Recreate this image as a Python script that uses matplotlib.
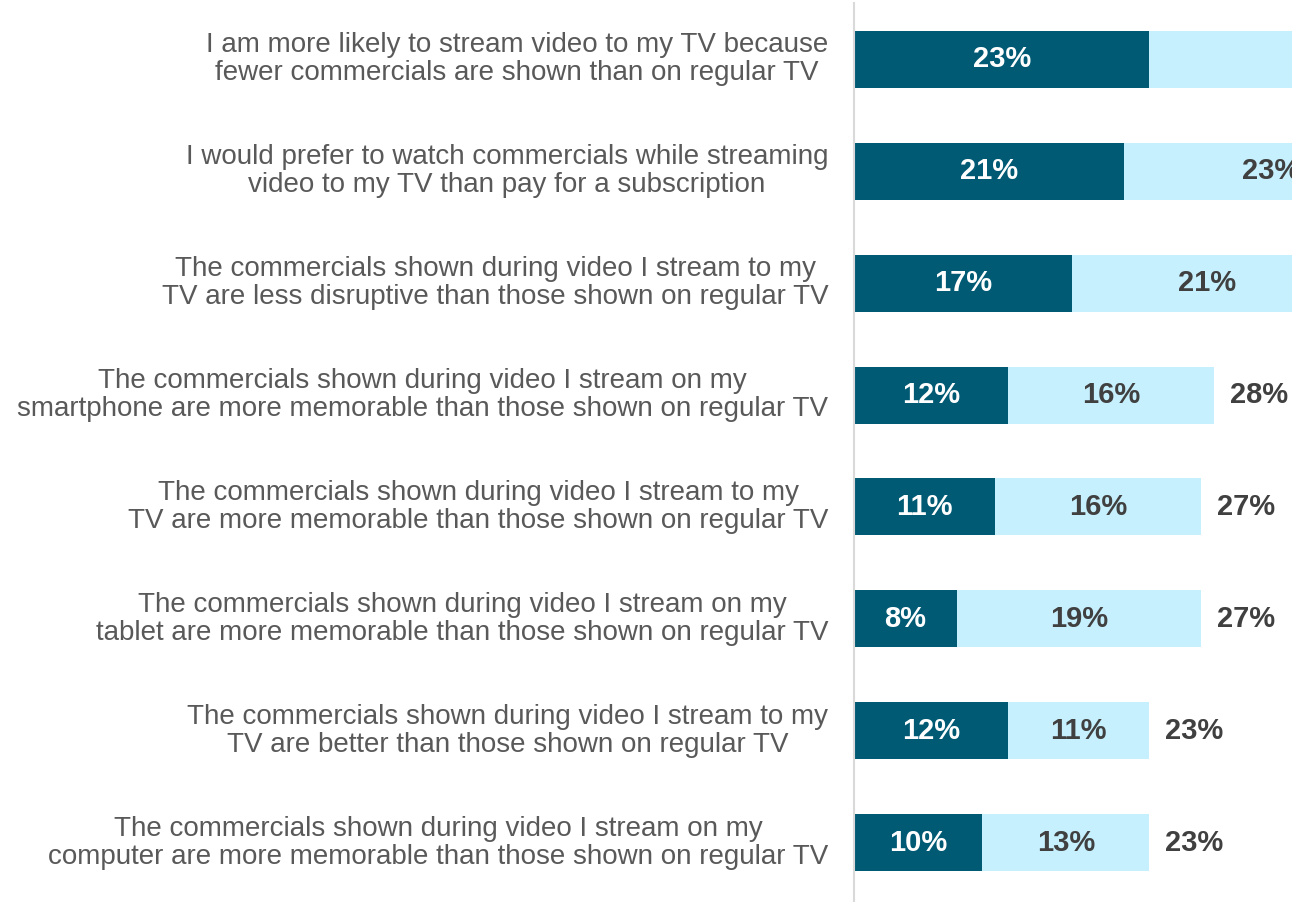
import matplotlib.pyplot as plt

plt.rcParams['font.family'] = ['Liberation Sans', 'DejaVu Sans']

statements = [
    "I am more likely to stream video to my TV because\nfewer commercials are shown than on regular TV",
    "I would prefer to watch commercials while streaming\nvideo to my TV than pay for a subscription",
    "The commercials shown during video I stream to my\nTV are less disruptive than those shown on regular TV",
    "The commercials shown during video I stream on my\nsmartphone are more memorable than those shown on regular TV",
    "The commercials shown during video I stream to my\nTV are more memorable than those shown on regular TV",
    "The commercials shown during video I stream on my\ntablet are more memorable than those shown on regular TV",
    "The commercials shown during video I stream to my\nTV are better than those shown on regular TV",
    "The commercials shown during video I stream on my\ncomputer are more memorable than those shown on regular TV",
]
strongly_agree = [23, 21, 17, 12, 11, 8, 12, 10]
somewhat_agree = [30, 23, 21, 16, 16, 19, 11, 13]

dark = '#005A73'
light = '#C6F0FD'
label_gray = '#595959'
value_gray = '#404040'

fig = plt.figure(figsize=(12.92, 9.02), dpi=100)
ax = fig.add_axes([0.661, 0.0, 0.339, 1.0])

x_max = 34.1
y = list(range(len(statements)))
totals = [a + b for a, b in zip(strongly_agree, somewhat_agree)]

ax.barh(y, strongly_agree, height=0.51, color=dark)
ax.barh(y, somewhat_agree, left=strongly_agree, height=0.51, color=light)

for i in y:
    a, b = strongly_agree[i], somewhat_agree[i]
    ax.text(a / 2, i, f"{a}%", ha='center', va='center', color='white',
            fontsize=21, fontweight='bold')
    # labels past the right edge are off the picture in the original
    if a + b / 2 < x_max:
        ax.text(a + b / 2, i, f"{b}%", ha='center', va='center', color=value_gray,
                fontsize=21, fontweight='bold')
    if totals[i] + 1.25 < x_max:
        ax.text(totals[i] + 1.25, i, f"{totals[i]}%", ha='left', va='center',
                color=value_gray, fontsize=21, fontweight='bold')
    ax.text(-2.0, i, statements[i], ha='right', va='center', multialignment='center',
            color=label_gray, fontsize=20, linespacing=1.1)

ax.set_xlim(0, x_max)
ax.set_ylim(7.53, -0.53)
ax.set_xticks([])
ax.set_yticks([])
for side in ['top', 'right', 'bottom']:
    ax.spines[side].set_visible(False)
ax.spines['left'].set_color('#D9D9D9')
ax.spines['left'].set_linewidth(1.5)
ax.spines['left'].set_bounds(7.53, -0.5)

fig.savefig('out.png', dpi=100)
